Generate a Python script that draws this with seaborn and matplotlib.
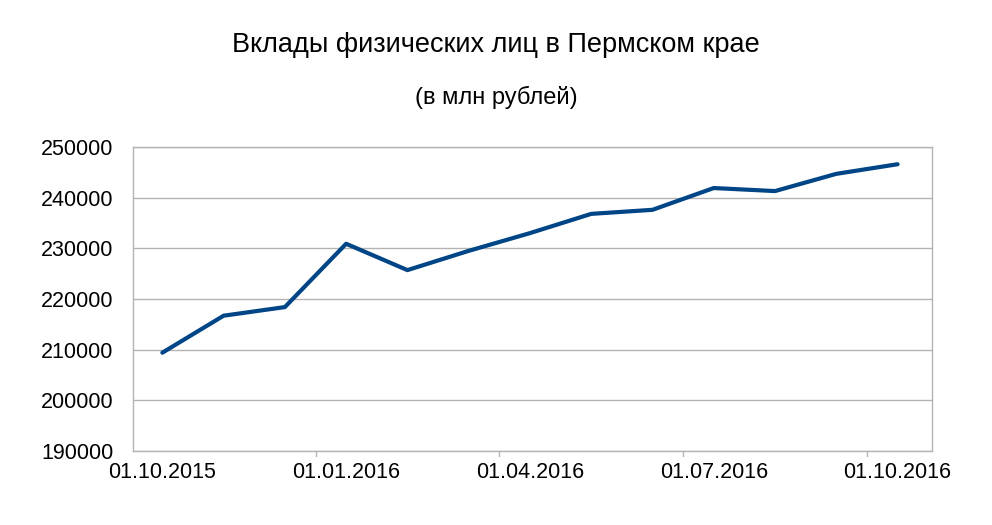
import matplotlib
matplotlib.use("Agg")
import matplotlib.pyplot as plt
import seaborn as sns
import pandas as pd

months = list(range(13))
values = [209400, 216700, 218400, 230900, 225700, 229500, 233000, 236800, 237600, 241900, 241300, 244700, 246600]
tick_pos = [0, 3, 6, 9, 12]
tick_labels = ["01.10.2015", "01.01.2016", "01.04.2016", "01.07.2016", "01.10.2016"]

sns.set_style("white")
plt.rcParams['font.family'] = ['Liberation Sans', 'DejaVu Sans']
plt.rcParams['text.color'] = 'black'
plt.rcParams['xtick.color'] = 'black'
plt.rcParams['ytick.color'] = 'black'
fig = plt.figure(figsize=(9.92, 5.25), dpi=100)
ax = fig.add_axes([0.134, 0.141, 0.806, 0.579])
df = pd.DataFrame({"m": months, "v": values})
sns.lineplot(data=df, x="m", y="v", ax=ax, color="#004586", linewidth=3)
ax.set_xlim(-0.48, 12.57)
ax.set_ylim(190000, 250000)
ax.set_yticks(range(190000, 250001, 10000))
ax.set_yticklabels([str(v) for v in range(190000, 250001, 10000)], fontsize=15.5)
ax.set_xticks(tick_pos)
ax.set_xticklabels(tick_labels, fontsize=15.5)
ax.tick_params(axis='x', length=0, pad=8)
ax.tick_params(axis='y', length=0, pad=14)
ax.grid(axis='y', color='#b3b3b3', linewidth=1)
for g in [2.5, 5.5, 8.5, 11.5]:
    ax.plot([g, g], [189000, 190000], color='#b3b3b3', lw=1, clip_on=False)
ax.set_xlabel("")
ax.set_ylabel("")
for s in ax.spines.values():
    s.set_color('#b3b3b3')
    s.set_linewidth(1)
fig.text(0.5, 0.915, "Вклады физических лиц в Пермском крае", ha='center', va='center', fontsize=19.5)
fig.text(0.5, 0.815, "(в млн рублей)", ha='center', va='center', fontsize=17)
fig.savefig("out.png", dpi=100)
